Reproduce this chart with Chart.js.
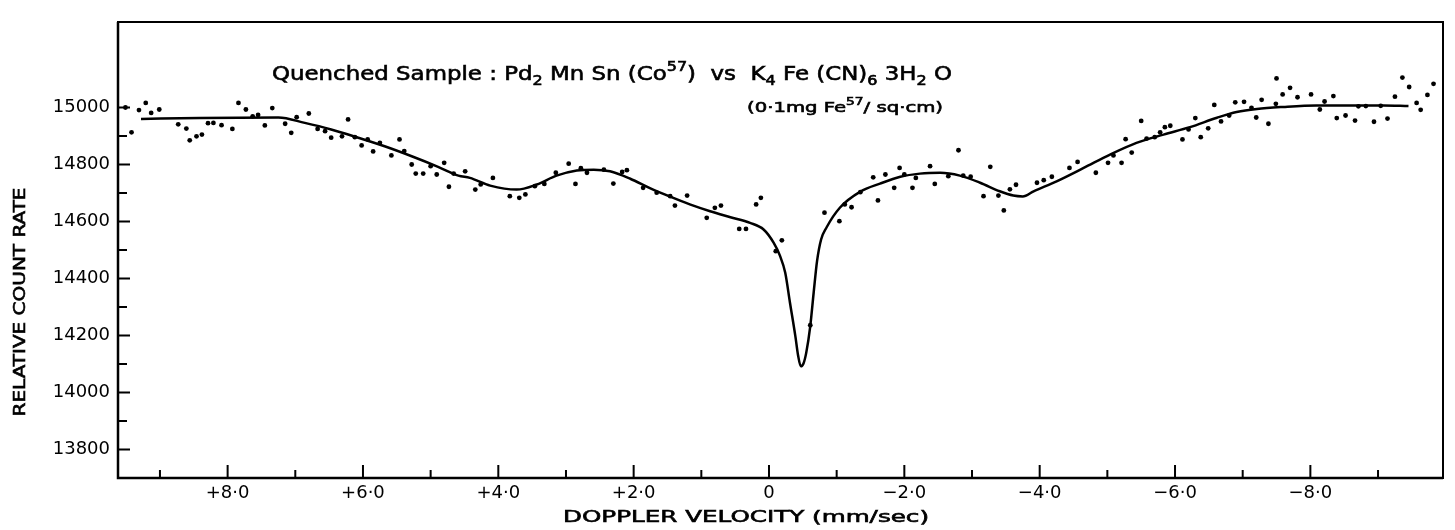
<!DOCTYPE html>
<html>
<head>
  <title>Quenched Sample Mossbauer Spectrum</title>
  <script src="https://cdn.jsdelivr.net/npm/chart.js"></script>
  <style>
    body { margin: 0; background: #fff; }
  </style>
</head>
<body>
  <div style="width: 1455px; height: 530px;">
    <canvas id="myChart"></canvas>
  </div>

  <script>
    // measured points (velocity in mm/sec, relative count rate)
    const dotVelocity = [9.51, 9.42, 9.31, 9.21, 9.13, 9.01, 8.73, 8.61, 8.56, 8.46, 8.38, 8.29, 8.21, 8.09, 7.93,
      7.84, 7.73, 7.63, 7.55, 7.45, 7.34, 7.15, 7.06, 6.98, 6.80, 6.67, 6.56, 6.47, 6.31, 6.22, 6.12, 6.02, 5.93,
      5.85, 5.75, 5.58, 5.46, 5.39, 5.28, 5.22, 5.11, 5.00, 4.91, 4.80, 4.73, 4.66, 4.49, 4.34, 4.26, 4.08, 3.83,
      3.69, 3.60, 3.46, 3.32, 3.15, 2.96, 2.86, 2.78, 2.69, 2.44, 2.30, 2.17, 2.10, 1.86, 1.66, 1.46, 1.39, 1.21,
      0.92, 0.80, 0.71, 0.44, 0.34, 0.19, 0.12, -0.10, -0.19, -0.61, -0.82, -1.04, -1.12, -1.22, -1.35, -1.54,
      -1.61, -1.72, -1.85, -1.93, -2.00, -2.12, -2.17, -2.38, -2.45, -2.65, -2.80, -2.87, -2.98, -3.17, -3.27,
      -3.39, -3.47, -3.56, -3.65, -3.96, -4.06, -4.18, -4.44, -4.56, -4.83, -5.01, -5.09, -5.21, -5.27, -5.36,
      -5.50, -5.58, -5.70, -5.78, -5.85, -5.93, -6.11, -6.20, -6.30, -6.38, -6.49, -6.58, -6.68, -6.80, -6.89,
      -7.02, -7.13, -7.20, -7.28, -7.38, -7.49, -7.50, -7.59, -7.70, -7.81, -8.01, -8.14, -8.21, -8.34, -8.39,
      -8.52, -8.66, -8.71, -8.82, -8.94, -9.04, -9.14, -9.25, -9.36, -9.46, -9.57, -9.63, -9.73, -9.82];
    const dotCounts = [15000, 14913, 14991, 15016, 14981, 14993, 14941, 14926, 14885, 14899, 14905, 14945, 14946, 14938, 14925,
      15016, 14993, 14969, 14974, 14937, 14998, 14943, 14911, 14966, 14979, 14925, 14917, 14894, 14899, 14958, 14896, 14867, 14888,
      14846, 14876, 14832, 14888, 14847, 14800, 14768, 14768, 14794, 14765, 14806, 14722, 14768, 14776, 14712, 14730, 14753, 14689,
      14683, 14695, 14724, 14732, 14771, 14803, 14732, 14787, 14771, 14782, 14733, 14774, 14780, 14718, 14701, 14689, 14656, 14691,
      14613, 14648, 14656, 14574, 14574, 14660, 14683, 14496, 14534, 14236, 14631, 14601, 14660, 14650, 14703, 14755,
      14674, 14765, 14718, 14788, 14765, 14718, 14753, 14794, 14732, 14759, 14850, 14761, 14757, 14689, 14792,
      14691, 14639, 14713, 14729, 14736, 14745, 14757, 14788, 14809, 14771, 14806, 14832, 14806, 14889, 14842,
      14953, 14891, 14896, 14913, 14931, 14936, 14888, 14923, 14963, 14896, 14927, 15009, 14951, 14972, 15018,
      15020, 14999, 14965, 15027, 14943, 15013, 15102, 15046, 15069, 15036, 15046, 14993, 15021, 15040, 14963,
      14972, 14954, 15004, 15005, 14950, 15006, 14961, 15038, 15105, 15072, 15016, 14992, 15044, 15083];

    // fitted curve
    const fitVelocity = [9.28, 8.41, 7.25, 6.86, 6.47, 6.07, 5.68, 5.28, 4.89, 4.59, 4.42, 4.12, 3.73, 3.43, 3.14,
      2.84, 2.59, 2.35, 2.05, 1.76, 1.46, 1.17, 0.87, 0.57, 0.28, 0.08, -0.07, -0.16, -0.24, -0.31, -0.39, -0.43,
      -0.47, -0.51, -0.55, -0.61, -0.66, -0.71, -0.77, -0.85, -1.05, -1.35, -1.64, -1.94, -2.23, -2.53, -2.82,
      -3.12, -3.41, -3.61, -3.75, -3.91, -4.25, -4.65, -5.04, -5.43, -5.83, -6.22, -6.62, -6.91, -7.21, -7.60,
      -8.09, -8.59, -9.08, -9.45];
    const fitCounts = [14960, 14963, 14965, 14946, 14923, 14894, 14864, 14829, 14792, 14761, 14753, 14726, 14712, 14730, 14761,
      14779, 14782, 14776, 14750, 14717, 14687, 14660, 14636, 14615, 14595, 14572, 14525, 14481, 14420, 14315, 14197, 14130,
      14092, 14102, 14139, 14233, 14350, 14461, 14537, 14579, 14649, 14705, 14733, 14757, 14768, 14771, 14761,
      14736, 14706, 14691, 14688, 14706, 14741, 14788, 14835, 14876, 14905, 14931, 14964, 14984, 14995, 15002,
      15007, 15007, 15007, 15005];

    const xLabelTicks = [8, 6, 4, 2, 0, -2, -4, -6, -8];
    const yLabelTicks = [13800, 14000, 14200, 14400, 14600, 14800, 15000];

    const dots = dotVelocity.map((v, i) => ({ x: v, y: dotCounts[i] }));
    const fit = fitVelocity.map((v, i) => ({ x: v, y: fitCounts[i] }));

    function fmtVelocity(v) {
      if (v === 0) return '0';
      return (v > 0 ? '+' : '\u2212') + Math.abs(v).toFixed(1).replace('.', '\u00b7');
    }

    // draw a run of normal / sub / sup text stretched to a given width
    function drawRich(ctx, parts, x, y, width, size, align) {
      const font = s => s + 'px "DejaVu Sans"';
      let total = 0;
      parts.forEach(p => {
        ctx.font = font(p[1] === 'n' ? size : size * 0.7);
        p.w = ctx.measureText(p[0]).width;
        total += p.w;
      });
      const sx = width / total;
      ctx.save();
      ctx.translate(align === 'center' ? x - width / 2 : x, y);
      ctx.scale(sx, 1);
      ctx.textBaseline = 'middle';
      ctx.textAlign = 'left';
      ctx.fillStyle = '#000';
      ctx.strokeStyle = '#000';
      ctx.lineWidth = 0.6;
      let cx = 0;
      parts.forEach(p => {
        ctx.font = font(p[1] === 'n' ? size : size * 0.7);
        let dy = 0;
        if (p[1] === 'sub') dy = size * 0.35;
        if (p[1] === 'sup') dy = -size * 0.4;
        ctx.fillText(p[0], cx, dy);
        ctx.strokeText(p[0], cx, dy);
        cx += p.w;
      });
      ctx.restore();
    }

    const framePlugin = {
      id: 'frame',
      afterDraw(chart) {
        const { ctx, chartArea: a, scales } = chart;
        const xs = scales.x, ys = scales.y;
        ctx.save();
        ctx.strokeStyle = '#000';
        ctx.lineWidth = 2;
        ctx.strokeRect(a.left, a.top, a.right - a.left, a.bottom - a.top);
        ctx.lineWidth = 2.5;
        ctx.beginPath();
        ctx.moveTo(a.left, a.top); ctx.lineTo(a.left, a.bottom); ctx.lineTo(a.right, a.bottom);
        ctx.stroke();

        // inward ticks
        ctx.lineWidth = 2;
        ctx.beginPath();
        for (let c = 13800; c <= 15000; c += 100) {
          const py = ys.getPixelForValue(c);
          ctx.moveTo(a.left, py);
          ctx.lineTo(a.left + (c % 200 === 0 ? 12 : 9), py);
        }
        for (let v = -9; v <= 9; v++) {
          const px = xs.getPixelForValue(v);
          ctx.moveTo(px, a.bottom);
          ctx.lineTo(px, a.bottom - (v % 2 === 0 ? 13 : 8));
        }
        ctx.stroke();
        ctx.restore();

        // texts
        drawRich(ctx, [
          ['Quenched Sample : Pd', 'n'], ['2', 'sub'], [' Mn Sn (Co', 'n'], ['57', 'sup'],
          [')  vs  K', 'n'], ['4', 'sub'], [' Fe (CN)', 'n'], ['6', 'sub'], [' 3H', 'n'], ['2', 'sub'], [' O', 'n']
        ], 272, 75, 680, 19, 'left');
        drawRich(ctx, [['(0\u00b71mg Fe', 'n'], ['57', 'sup'], ['/ sq\u00b7cm)', 'n']], 747, 108, 196, 14, 'left');
        drawRich(ctx, [['DOPPLER VELOCITY (mm/sec)', 'n']], 746, 518, 366, 16, 'center');
        ctx.save();
        ctx.translate(21, 302);
        ctx.rotate(-Math.PI / 2);
        drawRich(ctx, [['RELATIVE COUNT RATE', 'n']], 0, 0, 229, 16, 'center');
        ctx.restore();
      }
    };

    const ctx = document.getElementById('myChart').getContext('2d');
    const myChart = new Chart(ctx, {
      type: 'scatter',
      data: {
        datasets: [
          {
            label: 'Fit',
            data: fit,
            showLine: true,
            borderColor: '#000',
            borderWidth: 2.5,
            pointRadius: 0,
            cubicInterpolationMode: 'monotone'
          },
          {
            label: 'Measured',
            data: dots,
            showLine: false,
            backgroundColor: '#000',
            borderColor: '#000',
            pointRadius: 2.4,
            pointBorderWidth: 0
          }
        ]
      },
      options: {
        responsive: true,
        maintainAspectRatio: false,
        animation: false,
        layout: { padding: { top: 22, right: 12, left: 0, bottom: 0 } },
        plugins: { legend: { display: false }, tooltip: { enabled: false } },
        scales: {
          x: {
            type: 'linear',
            reverse: true,
            min: -9.96,
            max: 9.62,
            grid: { display: false, drawTicks: false },
            border: { display: false },
            afterBuildTicks: s => { s.ticks = xLabelTicks.map(v => ({ value: v })); },
            afterFit: s => { s.height = 52; },
            ticks: {
              padding: 5,
              color: '#000',
              font: { family: 'DejaVu Sans', size: 18 },
              callback: v => fmtVelocity(v)
            }
          },
          y: {
            min: 13700,
            max: 15300,
            grid: { display: false, drawTicks: false },
            border: { display: false },
            afterBuildTicks: s => { s.ticks = yLabelTicks.map(v => ({ value: v })); },
            afterFit: s => { s.width = 118; },
            ticks: {
              padding: 8,
              color: '#000',
              font: { family: 'DejaVu Sans', size: 18 },
              callback: v => String(v)
            }
          }
        }
      },
      plugins: [framePlugin]
    });
  </script>
</body>
</html>
